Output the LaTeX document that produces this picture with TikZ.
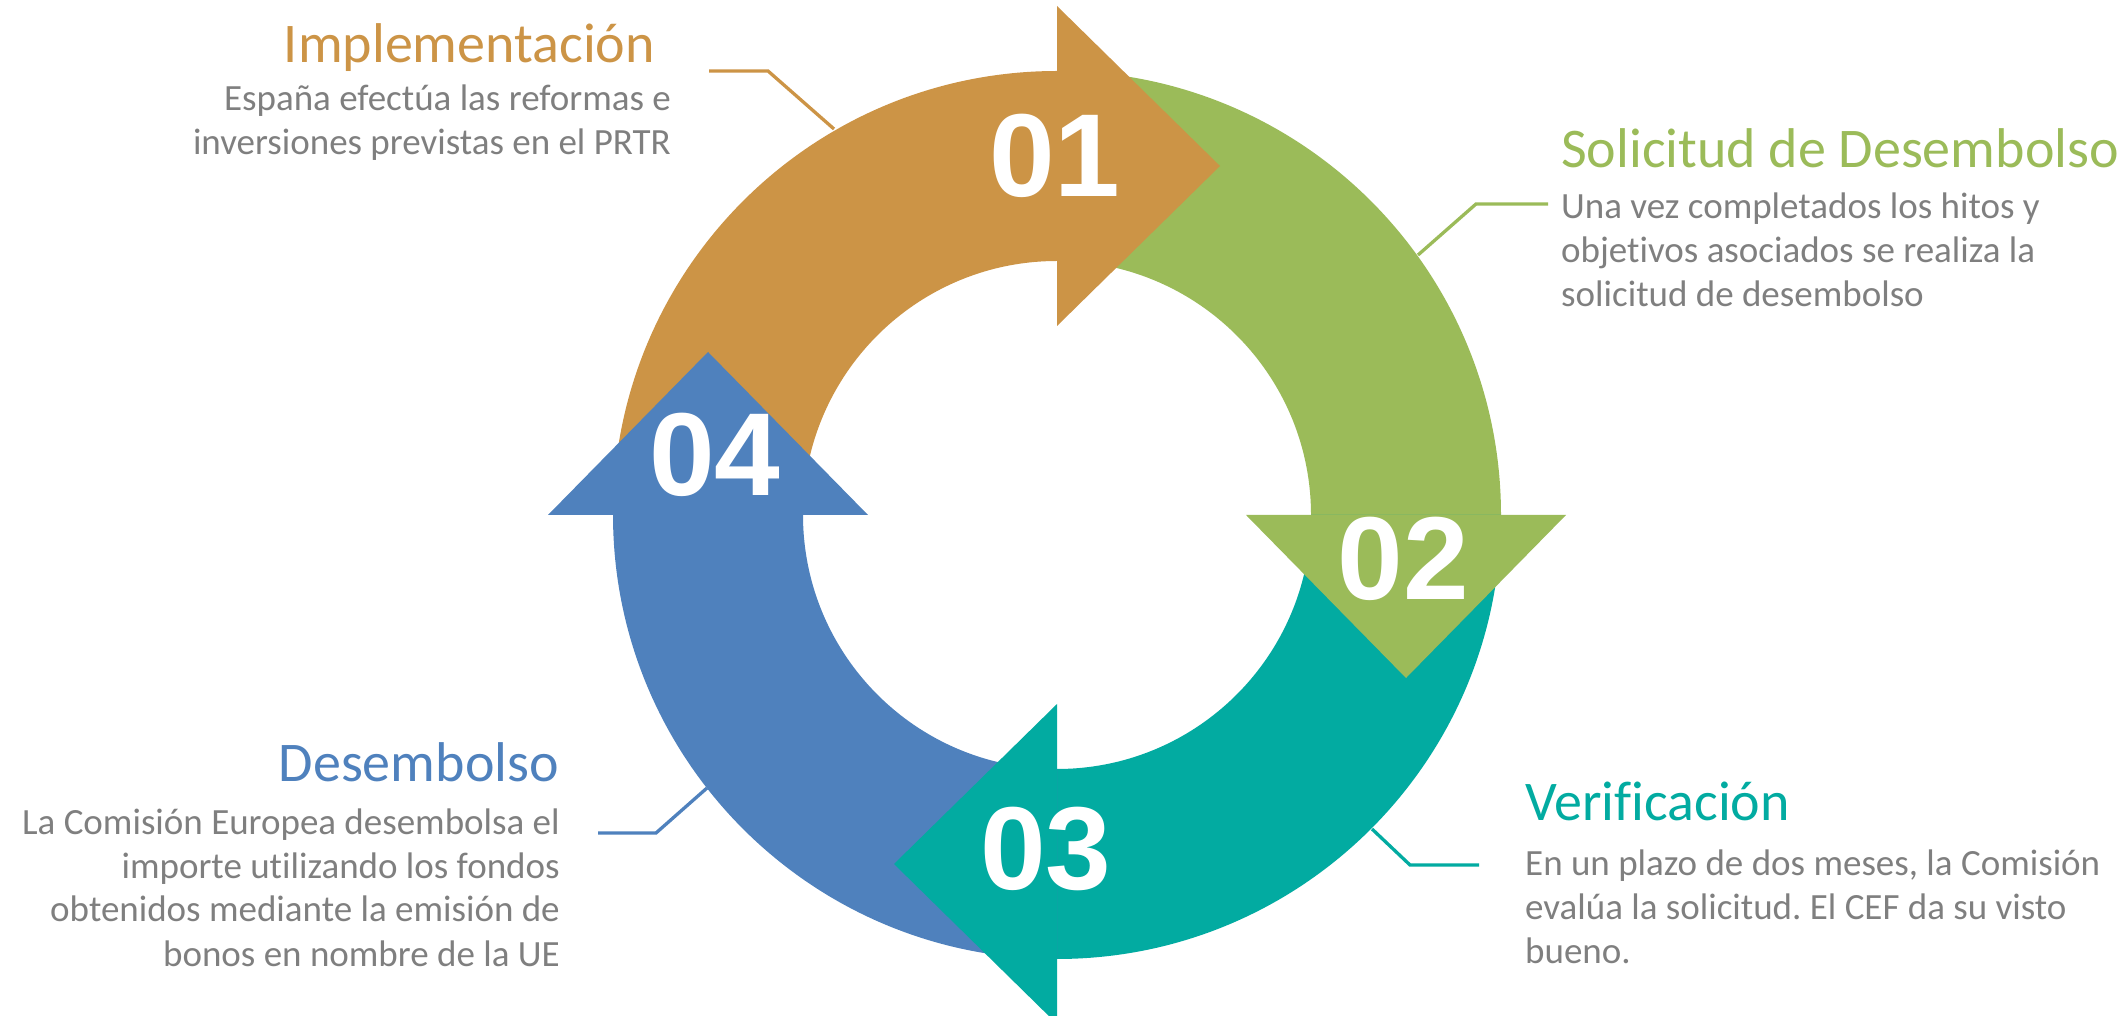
\documentclass[tikz,border=0pt]{standalone}
\usepackage{fontspec}
\setmainfont{Carlito}[Ligatures=NoCommon]
\newfontfamily\numfont{Liberation Sans}
\definecolor{cOrange}{HTML}{CC9446}
\definecolor{cGreen}{HTML}{9BBB59}
\definecolor{cTeal}{HTML}{02ABA1}
\definecolor{cBlue}{HTML}{4F81BD}
\definecolor{cGray}{HTML}{7F7F7F}
\frenchspacing
\begin{document}
\begin{tikzpicture}[x=1pt,y=1pt,
  numtext/.style={inner sep=0pt,text=white,font=\numfont\bfseries\fontsize{118}{120}\selectfont},
  titletext/.style={inner sep=0pt,font=\fontsize{56}{67}\selectfont},
  bodytext/.style={inner sep=0pt,text=cGray,font=\fontsize{37}{44}\selectfont},
  leader/.style={line width=3.3pt}]
\useasboundingbox (0,0) rectangle (2123,1015);
\clip (0,0) rectangle (2123,1015);
\coordinate (C) at (1057,500);
% ring bands
\fill[cOrange] ([shift={(C)}]90:444) arc[start angle=90,end angle=180,radius=444]
  -- ([shift={(C)}]180:254) arc[start angle=180,end angle=90,radius=254] -- cycle;
\fill[cGreen] ([shift={(C)}]0:444) arc[start angle=0,end angle=90,radius=444]
  -- ([shift={(C)}]90:254) arc[start angle=90,end angle=0,radius=254] -- cycle;
\fill[cTeal] ([shift={(C)}]270:444) arc[start angle=270,end angle=360,radius=444]
  -- ([shift={(C)}]0:254) arc[start angle=360,end angle=270,radius=254] -- cycle;
\fill[cBlue] ([shift={(C)}]180:444) arc[start angle=180,end angle=270,radius=444]
  -- ([shift={(C)}]270:254) arc[start angle=270,end angle=180,radius=254] -- cycle;
% arrow heads
\fill[cOrange] (1057,689) -- (1057,1009) -- (1220,849) -- cycle;
\fill[cGreen] (1246,500) -- (1566,500) -- (1406,337) -- cycle;
\fill[cTeal] (1057,311) -- (1057,-9) -- (894,151) -- cycle;
\fill[cBlue] (548,500) -- (868,500) -- (708,663) -- cycle;
% numbers
\node[numtext] (n1) at (1055,859) {01};
\node[numtext] (n2) at (1403.5,456) {02};
\node[numtext] (n3) at (1046,166.5) {03};
\node[numtext] (n4) at (715,560) {04};
% texts (base anchor = baseline of the last line)
\node[titletext,text=cOrange,anchor=base east] (t1) at (655,952) {Implementación};
\node[bodytext,align=right,anchor=base east] (b1) at (671,860) {España efectúa las reformas e\\inversiones previstas en el PRTR};
\node[titletext,text=cGreen,anchor=base west] (t2) at (1561,847) {Solicitud de Desembolso};
\node[bodytext,align=left,anchor=base west] (b2) at (1561,708) {Una vez completados los hitos y\\objetivos asociados se realiza la\\solicitud de desembolso};
\node[titletext,text=cTeal,anchor=base west] (t3) at (1525,194) {Verificación};
\node[bodytext,align=left,anchor=base west] (b3) at (1525,52) {En un plazo de dos meses, la Comisión\\evalúa la solicitud. El CEF da su visto\\bueno.};
\node[titletext,text=cBlue,anchor=base east] (t4) at (559,233) {Desembolso};
\node[bodytext,align=right,anchor=base east] (b4) at (560,49) {La Comisión Europea desembolsa el\\importe utilizando los fondos\\obtenidos mediante la emisión de\\bonos en nombre de la UE};
% leader lines
\coordinate (l1a) at (709,944); \coordinate (l1b) at (768,944); \coordinate (l1c) at (834,886);
\coordinate (l2a) at (1548,811); \coordinate (l2b) at (1476,811); \coordinate (l2c) at (1418,760);
\coordinate (l3a) at (1479,150); \coordinate (l3b) at (1410,150); \coordinate (l3c) at (1372,186);
\coordinate (l4a) at (598,182); \coordinate (l4b) at (656,182); \coordinate (l4c) at (707,227);
\draw[leader,cOrange] (l1a) -- (l1b) -- (l1c);
\draw[leader,cGreen] (l2a) -- (l2b) -- (l2c);
\draw[leader,cTeal] (l3a) -- (l3b) -- (l3c);
\draw[leader,cBlue] (l4a) -- (l4b) -- (l4c);
\end{tikzpicture}
\end{document}
